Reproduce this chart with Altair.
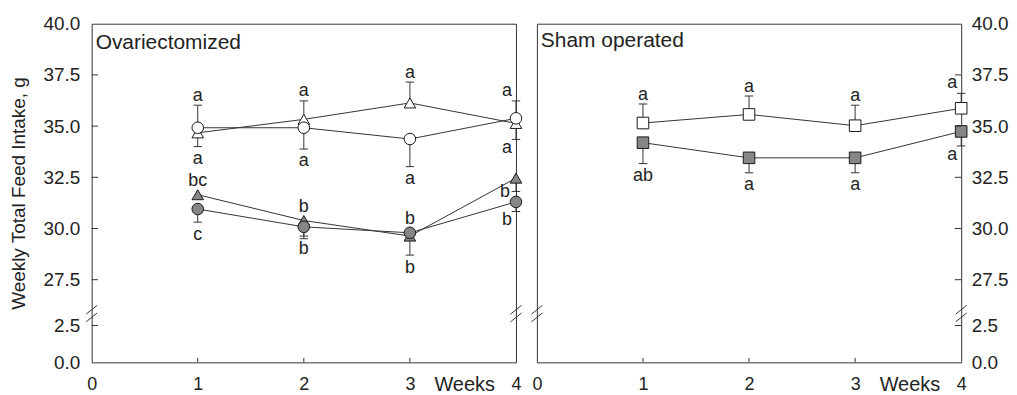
import altair as alt
import pandas as pd
import math

FONT = "Liberation Sans"
INK = "#222222"

weeks = [1, 2, 3, 4]

# ---- Ovariectomized panel ----
ovx_open_circle = [34.92, 34.92, 34.37, 35.38]
ovx_open_circle_bar = [36.02, 33.88, 33.02, 36.23]
ovx_open_circle_letters = ["a", "a", "a", "a"]
ovx_open_circle_places = ["above", "below", "below", "above"]

ovx_open_triangle = [34.67, 35.33, 36.13, 35.13]
ovx_open_triangle_bar = [34.00, 36.23, 37.15, 34.35]
ovx_open_triangle_letters = ["a", "a", "a", "a"]
ovx_open_triangle_places = ["below", "above", "above", "below"]

ovx_filled_triangle = [31.65, 30.39, 29.63, 32.46]
ovx_filled_triangle_bar = [None, 29.50, 28.70, 31.81]
ovx_filled_triangle_letters = ["bc", "b", "b", "b"]
ovx_filled_triangle_places = ["above", "above", "below", "beside"]

ovx_filled_circle = [30.95, 30.08, 29.79, 31.30]
ovx_filled_circle_bar = [30.31, 29.63, None, 30.83]
ovx_filled_circle_letters = ["c", "b", "b", "b"]
ovx_filled_circle_places = ["below", "below", "above", "below"]

# ---- Sham operated panel ----
sham_open_square = [35.15, 35.57, 35.02, 35.87]
sham_open_square_bar = [36.08, 36.47, 36.02, 36.60]
sham_open_square_letters = ["a", "a", "a", "a"]
sham_open_square_places = ["above", "above", "above", "above"]

sham_filled_square = [34.19, 33.45, 33.45, 34.74]
sham_filled_square_bar = [33.17, 32.72, 32.72, 34.03]
sham_filled_square_letters = ["ab", "a", "a", "a"]
sham_filled_square_places = ["below", "below", "below", "below"]

y_tick_values = [0, 2.5, 27.5, 30, 32.5, 35, 37.5, 40]
x_tick_values = [0, 1, 2, 3, 4]
inner_y_ticks = [2.5, 27.5, 30, 32.5, 35, 37.5]
inner_x_ticks = [1, 2, 3]
BREAK_VALUE = 9.0

OPEN = "white"
GRAY = "#868686"


def build(series):
    rows = []
    for name, shape, fill, means, bars, letters, places in series:
        for w, m, b, t, p in zip(weeks, means, bars, letters, places):
            has_bar = b is not None
            if has_bar and ((p == "above" and b > m) or (p in ("below", "beside") and b < m)):
                anchor, kind = b, "cap"
            else:
                anchor, kind = m, "marker"
            rows.append(dict(series=name, shape=shape, fill=fill, week=w, mean=m,
                             bar=(b if has_bar else math.nan), letter=t, place=p,
                             anchor=anchor, kind=kind, edge=(w == 4)))
    return pd.DataFrame(rows)


ovx = build([
    ("ovx_open_triangle", "triangle-up", OPEN, ovx_open_triangle, ovx_open_triangle_bar,
     ovx_open_triangle_letters, ovx_open_triangle_places),
    ("ovx_filled_triangle", "triangle-up", GRAY, ovx_filled_triangle, ovx_filled_triangle_bar,
     ovx_filled_triangle_letters, ovx_filled_triangle_places),
    ("ovx_open_circle", "circle", OPEN, ovx_open_circle, ovx_open_circle_bar,
     ovx_open_circle_letters, ovx_open_circle_places),
    ("ovx_filled_circle", "circle", GRAY, ovx_filled_circle, ovx_filled_circle_bar,
     ovx_filled_circle_letters, ovx_filled_circle_places),
])
sham = build([
    ("sham_open_square", "square", OPEN, sham_open_square, sham_open_square_bar,
     sham_open_square_letters, sham_open_square_places),
    ("sham_filled_square", "square", GRAY, sham_filled_square, sham_filled_square_bar,
     sham_filled_square_letters, sham_filled_square_places),
])

YSCALE = alt.Scale(domain=[0, 2.5, 27.5, 40], range=[340, 303, 257, 0], nice=False, zero=False)
XSCALE = alt.Scale(domain=[0, 4], nice=False, zero=False)

BREAK_PATH = "M-1,0.1L1,-1.5M-1,1.5L1,-0.1"


def make_panel(df, title_text, side, title_dy):
    yaxis_args = dict(values=y_tick_values, format=".1f", ticks=False, tickSize=0, domain=False,
                      grid=False, labelFontSize=19, labelFlush=False, labelOverlap=False,
                      labelFont=FONT, labelColor=INK)
    if side == "left":
        yaxis = alt.Axis(orient="left", labelPadding=12, title="Weekly Total Feed Intake, g",
                         titleFontSize=19, titleFontWeight="normal", titlePadding=14,
                         titleFont=FONT, titleColor=INK, **yaxis_args)
    else:
        yaxis = alt.Axis(orient="right", labelPadding=10, title=None, **yaxis_args)
    xaxis = alt.Axis(values=x_tick_values, format="d", ticks=False, tickSize=0, domain=False,
                     grid=False, labelFontSize=18, labelFlush=False, labelPadding=13,
                     labelFont=FONT, labelColor=INK, title="Weeks", titleX=374, titleY=28,
                     titleAlign="center", titleBaseline="alphabetic", titleFontSize=20,
                     titleFontWeight="normal", titleFont=FONT, titleColor=INK)

    def X(field):
        return alt.X(field, type="quantitative", scale=XSCALE, axis=xaxis)

    def Y(field):
        return alt.Y(field, type="quantitative", scale=YSCALE, axis=yaxis)

    base = alt.Chart(df)

    lines = base.mark_line(color="#333333", strokeWidth=1).encode(
        x=X("week"), y=Y("mean"), detail="series:N")

    bars_df = df.dropna(subset=["bar"])
    bars = alt.Chart(bars_df).mark_rule(color="#333333", strokeWidth=1).encode(
        x=X("week"), y=Y("mean"), y2="bar")
    caps = alt.Chart(bars_df).transform_calculate(
        c0="datum.week - 0.04", c1="datum.week + 0.04"
    ).mark_rule(color="#333333", strokeWidth=1).encode(
        x=X("c0"), x2="c1", y=Y("bar"))

    points = base.mark_point(filled=True, size=135, stroke="#1a1a1a", strokeWidth=1, opacity=1).encode(
        x=X("week"), y=Y("mean"),
        shape=alt.Shape("shape:N", scale=None),
        fill=alt.Fill("fill:N", scale=None))

    def text_layer(cond, align, dx, dy):
        return base.transform_filter(cond).mark_text(
            font=FONT, fontSize=18, color=INK, align=align, baseline="alphabetic", dx=dx, dy=dy
        ).encode(x=X("week"), y=Y("anchor"), text="letter:N")

    t1 = text_layer("!datum.edge && datum.place == 'above' && datum.kind == 'cap'", "center", 0, -4.5)
    t2 = text_layer("!datum.edge && datum.place == 'above' && datum.kind == 'marker'", "center", 0, -9)
    t3 = text_layer("!datum.edge && datum.place == 'below'", "center", 0, 17.5)
    t4 = text_layer("datum.edge && datum.place == 'above'", "right", -4, -5)
    t5 = text_layer("datum.edge && datum.place == 'below'", "right", -4, 14)
    t6 = text_layer("datum.edge && datum.place == 'beside'", "right", -6, 6)

    edge_x = 0 if side == "left" else 4
    tick_dir = 0.06 if side == "left" else -0.06
    ytk = pd.DataFrame({"v": inner_y_ticks, "x0": edge_x, "x1": edge_x + tick_dir})
    yticks = alt.Chart(ytk).mark_rule(color="#333333", strokeWidth=1).encode(
        x=X("x0"), x2="x1", y=Y("v"))
    xtk = pd.DataFrame({"w": inner_x_ticks, "y0": 0.0, "y1": 0.3})
    xticks = alt.Chart(xtk).mark_rule(color="#333333", strokeWidth=1).encode(
        x=X("w"), y=Y("y0"), y2="y1")

    brk = pd.DataFrame({"w": [0, 4], "v": BREAK_VALUE})
    breaks = alt.Chart(brk).mark_point(shape=BREAK_PATH, size=121, filled=False, stroke="#333333",
                                       strokeWidth=1, opacity=1).encode(x=X("w"), y=Y("v"))

    ttl = pd.DataFrame({"w": [0], "v": [40], "t": [title_text]})
    title = alt.Chart(ttl).mark_text(font=FONT, fontSize=21, color=INK, align="left",
                                     baseline="alphabetic", dx=4, dy=title_dy).encode(
        x=X("w"), y=Y("v"), text="t:N")

    return alt.layer(lines, bars, caps, points, t1, t2, t3, t4, t5, t6, yticks, xticks, breaks, title
                     ).properties(width=426, height=340)


left = make_panel(ovx, "Ovariectomized", "left", 25)
right = make_panel(sham, "Sham operated", "right", 23)

chart = alt.hconcat(left, right, spacing=21, bounds="flush").properties(
    padding={"left": 1, "right": 0, "top": 5, "bottom": 0}
).configure_view(stroke="#333333", strokeWidth=1)

chart.save("out.html", embed_options={"renderer": "svg", "actions": False})
